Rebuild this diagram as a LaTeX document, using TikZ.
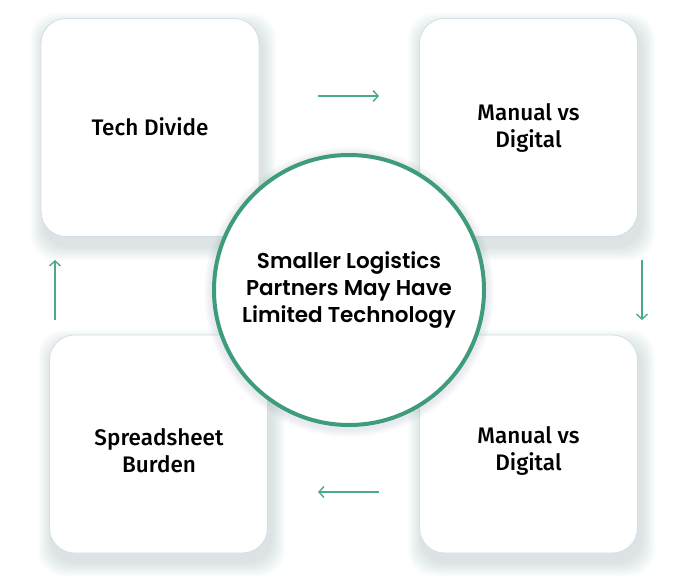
\documentclass[tikz,border=0pt]{standalone}
\usepackage{fontspec}
\setmainfont{Fira Sans}
\newfontfamily\boxfont{Fira Sans Medium}
\newfontfamily\hubfont{Poppins SemiBold}
\usetikzlibrary{arrows.meta}
\definecolor{ringgreen}{HTML}{3F9C7A}
\definecolor{arrowgreen}{HTML}{4DAA86}
\definecolor{boxedge}{HTML}{D3DEE6}
\definecolor{shadowblue}{HTML}{6E8AA6}
\newcommand\cardshadow[4]{%
  \foreach \i in {1,...,14}{%
    \fill[shadowblue,opacity=0.015,rounded corners=25pt]
      (#1-\i+3,#2-\i+9) rectangle (#3+\i+3,#4+\i+9);}}
\begin{document}
\begin{tikzpicture}[x=1pt,y=-1pt,
  card/.style={draw=boxedge,line width=0.8pt,fill=white,rounded corners=25pt,
    minimum width=218pt,minimum height=218pt,inner sep=0pt},
  cardtext/.style={font=\boxfont\fontsize{22.5}{27}\selectfont,align=center,text=black,inner sep=0pt},
  hub/.style={circle,draw=ringgreen,line width=4pt,fill=white,minimum size=270pt,inner sep=0pt,
    font=\hubfont\fontsize{21.5}{27}\selectfont,align=center,text=black},
  flow/.style={draw=arrowgreen,line width=1.4pt,-{Straight Barb[length=5pt,width=11pt]}}]
\useasboundingbox (0,0) rectangle (690,578);
\fill[white] (0,0) rectangle (690,578);
% shadows
\cardshadow{41}{18}{259}{237}
\cardshadow{419}{18}{638}{237}
\cardshadow{49}{335}{268}{553}
\cardshadow{419}{335}{638}{553}
% cards
\node[card] (tl) at (150,127.5) {};
\node[card] (tr) at (528.5,127.5) {};
\node[card] (bl) at (158.5,444) {};
\node[card] (br) at (528.5,444) {};
\node[cardtext] (tlt) at (150,127) {Tech Divide};
\node[cardtext] (trt) at (528.5,127.5) {Manual vs\\Digital};
\node[cardtext] (blt) at (159,451) {Spreadsheet\\Burden};
\node[cardtext] (brt) at (528.5,451) {Manual vs\\Digital};
% hub glow
\foreach \i in {1,...,8}{\fill[shadowblue,opacity=0.02] (349,292) circle (137+\i);}
\node[hub] (hub) at (349,290) {Smaller Logistics\\Partners May Have\\Limited Technology};
% arrows
\coordinate (a1s) at (318,96);  \coordinate (a1e) at (379,96);
\coordinate (a2s) at (642,260); \coordinate (a2e) at (642,320);
\coordinate (a3s) at (379,492); \coordinate (a3e) at (318,492);
\coordinate (a4s) at (55,320);  \coordinate (a4e) at (55,260);
\draw[flow] (a1s) -- (a1e);
\draw[flow] (a2s) -- (a2e);
\draw[flow] (a3s) -- (a3e);
\draw[flow] (a4s) -- (a4e);
\end{tikzpicture}
\end{document}
